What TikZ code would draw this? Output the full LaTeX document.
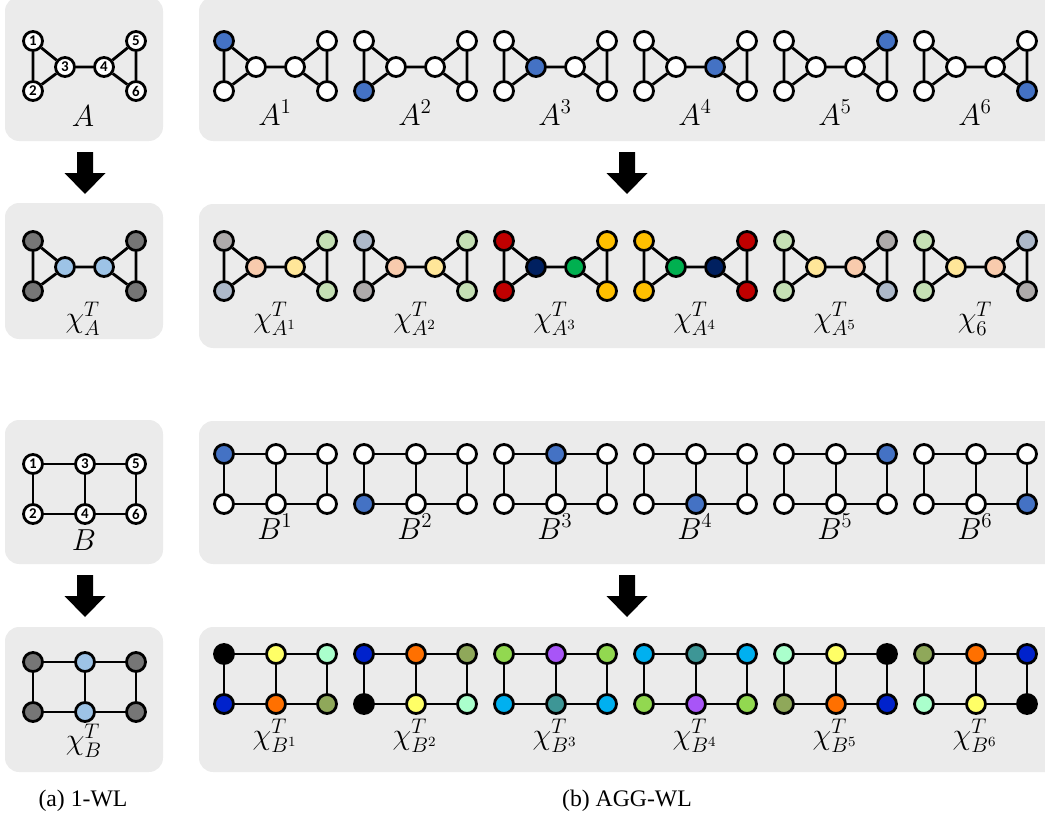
\documentclass[tikz,border=0pt]{standalone}
\usepackage{fontspec}
\setmainfont{Liberation Serif}
\newfontfamily\numfont{Carlito}
\definecolor{boxgray}{RGB}{235,235,235}
\definecolor{hl}{RGB}{68,114,196}
\definecolor{dgray}{RGB}{118,118,118}
\definecolor{lblue}{RGB}{157,195,230}
\definecolor{gA}{RGB}{174,170,170}
\definecolor{bA}{RGB}{173,185,202}
\definecolor{peach}{RGB}{248,203,173}
\definecolor{lyel}{RGB}{255,230,153}
\definecolor{lgrn}{RGB}{197,224,180}
\definecolor{dred}{RGB}{192,0,0}
\definecolor{navy}{RGB}{0,32,96}
\definecolor{grn}{RGB}{0,176,80}
\definecolor{gold}{RGB}{255,192,0}
\definecolor{yel}{RGB}{255,255,102}
\definecolor{mint}{RGB}{170,255,204}
\definecolor{blu}{RGB}{0,34,204}
\definecolor{org}{RGB}{255,112,0}
\definecolor{olive}{RGB}{143,168,90}
\definecolor{lgreen}{RGB}{146,216,80}
\definecolor{purp}{RGB}{168,85,247}
\definecolor{cyan2}{RGB}{0,176,240}
\definecolor{teal2}{RGB}{61,150,150}
\newif\ifnumbered
\newcommand{\vl}[1]{\ifnumbered{\numfont\bfseries\fontsize{8.5}{9}\selectfont #1}\fi}
% triangle pair graph: #1 prefix, #2 x, #3 y, #4..#9 colours of vertices 1..6
\newcommand{\GraphA}[9]{%
  \node[vert,fill=#4] (#1-1) at (#2,#3) {\vl{1}};
  \node[vert,fill=#5] (#1-2) at (#2,{#3+50}) {\vl{2}};
  \node[vert,fill=#6] (#1-3) at ({#2+32},{#3+26}) {\vl{3}};
  \node[vert,fill=#7] (#1-4) at ({#2+71},{#3+26}) {\vl{4}};
  \node[vert,fill=#8] (#1-5) at ({#2+103},#3) {\vl{5}};
  \node[vert,fill=#9] (#1-6) at ({#2+103},{#3+50}) {\vl{6}};
  \draw[edge] (#1-1) -- (#1-2) (#1-1) -- (#1-3) (#1-2) -- (#1-3)
    (#1-3) -- (#1-4) (#1-4) -- (#1-5) (#1-4) -- (#1-6) (#1-5) -- (#1-6);
}
% ladder graph: vertices 1,3,5 top; 2,4,6 bottom
\newcommand{\GraphB}[9]{%
  \node[vert,fill=#4] (#1-1) at (#2,#3) {\vl{1}};
  \node[vert,fill=#5] (#1-2) at (#2,{#3+50}) {\vl{2}};
  \node[vert,fill=#6] (#1-3) at ({#2+52},#3) {\vl{3}};
  \node[vert,fill=#7] (#1-4) at ({#2+52},{#3+50}) {\vl{4}};
  \node[vert,fill=#8] (#1-5) at ({#2+103},#3) {\vl{5}};
  \node[vert,fill=#9] (#1-6) at ({#2+103},{#3+50}) {\vl{6}};
  \draw[edge] (#1-1) -- (#1-2) (#1-1) -- (#1-3) (#1-3) -- (#1-5)
    (#1-2) -- (#1-4) (#1-4) -- (#1-6) (#1-3) -- (#1-4) (#1-5) -- (#1-6);
}
\newcommand{\fatarrow}[2]{%
  \fill[black] ({#1-8},#2) -- ({#1+8},#2) -- ({#1+8},{#2+21}) -- ({#1+20.5},{#2+21})
    -- (#1,{#2+42}) -- ({#1-20.5},{#2+21}) -- ({#1-8},{#2+21}) -- cycle;
}
\begin{document}
\begin{tikzpicture}[x=0.02cm,y=-0.02cm,
  panel/.style={fill=boxgray,rounded corners=8pt},
  vert/.style={circle,draw=black,line width=1.6pt,minimum size=0.38cm,inner sep=0pt},
  edge/.style={line width=1.6pt},
  lab/.style={font=\fontsize{16.5}{19}\selectfont,inner sep=0pt},
  captext/.style={font=\fontsize{13.5}{16}\selectfont,inner sep=0pt}]
\useasboundingbox (0,0) rectangle (1045,818);
\clip (0,0) rectangle (1045,818);
% panels
\path[panel] (5,-3) rectangle (163,141);
\path[panel] (199,-3) rectangle (1070,141);
\path[panel] (5,203) rectangle (163,339);
\path[panel] (199,204) rectangle (1070,348);
\path[panel] (5,420) rectangle (163,564);
\path[panel] (199,421) rectangle (1070,564);
\path[panel] (5,627) rectangle (163,772);
\path[panel] (199,627) rectangle (1070,772);
% arrows
\fatarrow{85}{152}
\fatarrow{627}{152}
\fatarrow{85}{575}
\fatarrow{627}{575}
% ---- graph A ----
\numberedtrue
\GraphA{A}{33}{41}{white}{white}{white}{white}{white}{white}
\numberedfalse
\node[lab,anchor=base] (labA) at (83,126) {$A$};
\GraphA{A1}{224}{41}{hl}{white}{white}{white}{white}{white}
\GraphA{A2}{364}{41}{white}{hl}{white}{white}{white}{white}
\GraphA{A3}{504}{41}{white}{white}{hl}{white}{white}{white}
\GraphA{A4}{644}{41}{white}{white}{white}{hl}{white}{white}
\GraphA{A5}{784}{41}{white}{white}{white}{white}{hl}{white}
\GraphA{A6}{924}{41}{white}{white}{white}{white}{white}{hl}
\node[lab,anchor=base] (labA1) at (275,125) {$A^{1}$};
\node[lab,anchor=base] (labA2) at (415,125) {$A^{2}$};
\node[lab,anchor=base] (labA3) at (555,125) {$A^{3}$};
\node[lab,anchor=base] (labA4) at (695,125) {$A^{4}$};
\node[lab,anchor=base] (labA5) at (835,125) {$A^{5}$};
\node[lab,anchor=base] (labA6) at (975,125) {$A^{6}$};
% ---- colourings of A ----
\GraphA{cA}{33}{241}{dgray}{dgray}{lblue}{lblue}{dgray}{dgray}
\node[lab] (labcA) at (83,319) {$\chi^{T}_{A}$};
\GraphA{cA1}{224}{241}{gA}{bA}{peach}{lyel}{lgrn}{lgrn}
\GraphA{cA2}{364}{241}{bA}{gA}{peach}{lyel}{lgrn}{lgrn}
\GraphA{cA3}{504}{241}{dred}{dred}{navy}{grn}{gold}{gold}
\GraphA{cA4}{644}{241}{gold}{gold}{grn}{navy}{dred}{dred}
\GraphA{cA5}{784}{241}{lgrn}{lgrn}{lyel}{peach}{gA}{bA}
\GraphA{cA6}{924}{241}{lgrn}{lgrn}{lyel}{peach}{bA}{gA}
\node[lab] (labcA1) at (275,319) {$\chi^{T}_{A^{1}}$};
\node[lab] (labcA2) at (415,319) {$\chi^{T}_{A^{2}}$};
\node[lab] (labcA3) at (555,319) {$\chi^{T}_{A^{3}}$};
\node[lab] (labcA4) at (695,319) {$\chi^{T}_{A^{4}}$};
\node[lab] (labcA5) at (835,319) {$\chi^{T}_{A^{5}}$};
\node[lab] (labcA6) at (975,319) {$\chi^{T}_{6}$};
% ---- graph B ----
\numberedtrue
\GraphB{B}{33}{464}{white}{white}{white}{white}{white}{white}
\numberedfalse
\node[lab,anchor=base] (labB) at (84,550) {$B$};
\GraphB{B1}{224}{454}{hl}{white}{white}{white}{white}{white}
\GraphB{B2}{364}{454}{white}{hl}{white}{white}{white}{white}
\GraphB{B3}{504}{454}{white}{white}{hl}{white}{white}{white}
\GraphB{B4}{644}{454}{white}{white}{white}{hl}{white}{white}
\GraphB{B5}{784}{454}{white}{white}{white}{white}{hl}{white}
\GraphB{B6}{924}{454}{white}{white}{white}{white}{white}{hl}
\node[lab,anchor=base] (labB1) at (275,539) {$B^{1}$};
\node[lab,anchor=base] (labB2) at (415,539) {$B^{2}$};
\node[lab,anchor=base] (labB3) at (555,539) {$B^{3}$};
\node[lab,anchor=base] (labB4) at (695,539) {$B^{4}$};
\node[lab,anchor=base] (labB5) at (835,539) {$B^{5}$};
\node[lab,anchor=base] (labB6) at (975,539) {$B^{6}$};
% ---- colourings of B ----
\GraphB{cB}{33}{662}{dgray}{dgray}{lblue}{lblue}{dgray}{dgray}
\node[lab] (labcB) at (84,741) {$\chi^{T}_{B}$};
\GraphB{cB1}{224}{654}{black}{blu}{yel}{org}{mint}{olive}
\GraphB{cB2}{364}{654}{blu}{black}{org}{yel}{olive}{mint}
\GraphB{cB3}{504}{654}{lgreen}{cyan2}{purp}{teal2}{lgreen}{cyan2}
\GraphB{cB4}{644}{654}{cyan2}{lgreen}{teal2}{purp}{cyan2}{lgreen}
\GraphB{cB5}{784}{654}{mint}{olive}{yel}{org}{black}{blu}
\GraphB{cB6}{924}{654}{olive}{mint}{org}{yel}{blu}{black}
\node[lab] (labcB1) at (275,736) {$\chi^{T}_{B^{1}}$};
\node[lab] (labcB2) at (415,736) {$\chi^{T}_{B^{2}}$};
\node[lab] (labcB3) at (555,736) {$\chi^{T}_{B^{3}}$};
\node[lab] (labcB4) at (695,736) {$\chi^{T}_{B^{4}}$};
\node[lab] (labcB5) at (835,736) {$\chi^{T}_{B^{5}}$};
\node[lab] (labcB6) at (975,736) {$\chi^{T}_{B^{6}}$};
% captions
\node[captext,anchor=base] (capa) at (83,806) {(a) 1-WL};
\node[captext,anchor=base] (capb) at (627,806) {(b) AGG-WL};
\end{tikzpicture}
\end{document}
